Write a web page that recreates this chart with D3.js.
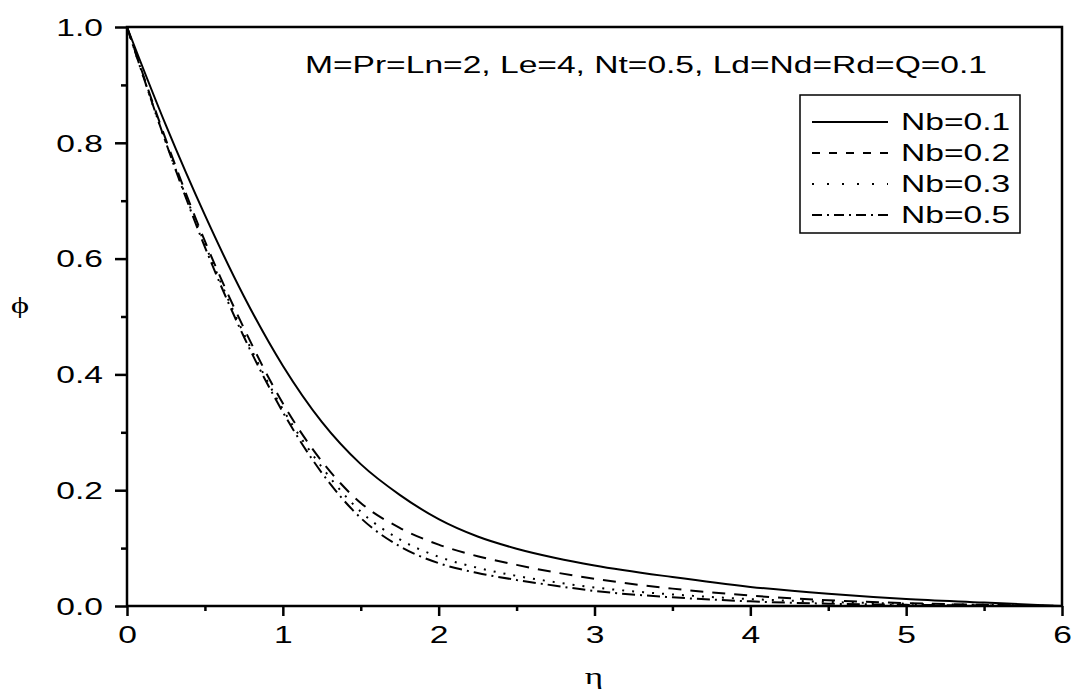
<!DOCTYPE html>
<html>
<head>
<meta charset="utf-8">
<script src="https://cdn.jsdelivr.net/npm/d3@7"></script>
<style>
  html, body { margin: 0; padding: 0; background: #fff; }
  svg { display: block; }
  text { font-family: "Liberation Sans", Arial, sans-serif; fill: #000; }
</style>
</head>
<body>
<svg id="chart" width="1073" height="692"></svg>
<script>
// data
const eta = [0, 0.25, 0.5, 0.75, 1, 1.25, 1.5, 1.75, 2, 2.25, 2.5, 2.75, 3, 3.5, 4, 4.5, 5, 5.5, 6];
const phiNb01 = [1, 0.83, 0.675, 0.535, 0.415, 0.318, 0.245, 0.192, 0.150, 0.120, 0.099, 0.083, 0.07, 0.05, 0.033, 0.021, 0.012, 0.006, 0];
const phiNb02 = [1, 0.805, 0.63, 0.48, 0.35, 0.25, 0.178, 0.135, 0.106, 0.086, 0.071, 0.058, 0.047, 0.03, 0.018, 0.01, 0.005, 0.002, 0];
const phiNb03 = [1, 0.80, 0.625, 0.47, 0.34, 0.24, 0.163, 0.115, 0.085, 0.066, 0.052, 0.041, 0.032, 0.02, 0.012, 0.007, 0.004, 0.002, 0];
const phiNb05 = [1, 0.80, 0.62, 0.465, 0.335, 0.23, 0.152, 0.103, 0.074, 0.057, 0.045, 0.035, 0.026, 0.015, 0.008, 0.004, 0.002, 0.001, 0];

const seriesNames = ["Nb=0.1", "Nb=0.2", "Nb=0.3", "Nb=0.5"];
const seriesValues = [phiNb01, phiNb02, phiNb03, phiNb05];
const dashes = ["none", "13,9", "2,8", "13,5,2,5"];
const legendDashes = ["none", "8,9", "2,13", "10,5,2,5"];

const xTicks = [0, 1, 2, 3, 4, 5, 6];
const yTicks = [0, 0.2, 0.4, 0.6, 0.8, 1.0];
const note = "M=Pr=Ln=2, Le=4, Nt=0.5, Ld=Nd=Rd=Q=0.1";

// the original picture is stretched sideways, so text is too
const SX = 1.46;

const svg = d3.select("#chart");
const plotL = 127, plotR = 1062, plotT = 27, plotB = 606;

const x = d3.scaleLinear().domain([0, 6]).range([plotL, plotR]);
const y = d3.scaleLinear().domain([0, 1]).range([plotB, plotT]);

// curves
const line = d3.line()
  .x((d, i) => x(eta[i]))
  .y(d => y(d))
  .curve(d3.curveMonotoneX);

seriesValues.forEach((vals, k) => {
  svg.append("path")
    .attr("d", line(vals))
    .attr("fill", "none")
    .attr("stroke", "#000")
    .attr("stroke-width", 2)
    .attr("stroke-dasharray", dashes[k]);
});

// frame
svg.append("rect")
  .attr("x", plotL).attr("y", plotT)
  .attr("width", plotR - plotL).attr("height", plotB - plotT)
  .attr("fill", "none").attr("stroke", "#000").attr("stroke-width", 2.5);

// x axis
const xAxis = svg.append("g")
  .attr("transform", `translate(0,${plotB})`)
  .call(d3.axisBottom(x).tickValues(xTicks).tickSize(10).tickFormat(d3.format("d")));
xAxis.select(".domain").remove();
xAxis.selectAll(".tick line").attr("stroke-width", 2.5);
xAxis.selectAll("text")
  .attr("y", 37).attr("dy", 0)
  .attr("transform", `scale(${SX},1)`)
  .style("font-size", "23px")
  .style("font-family", "Liberation Sans, Arial, sans-serif");

svg.append("g")
  .attr("transform", `translate(0,${plotB})`)
  .call(d3.axisBottom(x).tickValues(d3.range(0.5, 6, 1)).tickSize(5).tickFormat(""))
  .call(g => g.select(".domain").remove())
  .selectAll("line").attr("stroke-width", 2.5);

// y axis
const yAxis = svg.append("g")
  .attr("transform", `translate(${plotL},0)`)
  .call(d3.axisLeft(y).tickValues(yTicks).tickSize(12).tickFormat(d3.format(".1f")));
yAxis.select(".domain").remove();
yAxis.selectAll(".tick line").attr("stroke-width", 2.5);
yAxis.selectAll("text")
  .attr("x", -24 / SX).attr("dy", "0.36em")
  .attr("transform", `scale(${SX},1)`)
  .style("font-size", "23px")
  .style("font-family", "Liberation Sans, Arial, sans-serif");

svg.append("g")
  .attr("transform", `translate(${plotL},0)`)
  .call(d3.axisLeft(y).tickValues(d3.range(0.1, 1, 0.2)).tickSize(6).tickFormat(""))
  .call(g => g.select(".domain").remove())
  .selectAll("line").attr("stroke-width", 2.5);

// axis titles
svg.append("text")
  .attr("transform", `translate(20,313) scale(${SX},1)`)
  .attr("text-anchor", "middle")
  .style("font-family", "Liberation Serif, Times New Roman, serif")
  .style("font-size", "24px")
  .text("\u03d5");

svg.append("text")
  .attr("transform", `translate(594,684) scale(${SX},1)`)
  .attr("text-anchor", "middle")
  .style("font-family", "Liberation Serif, Times New Roman, serif")
  .style("font-size", "24px")
  .text("\u03b7");

// parameter note
svg.append("text")
  .attr("transform", `translate(305,73) scale(${SX},1)`)
  .style("font-size", "23px")
  .text(note);

// legend
const legX = 800, legY = 95, legW = 220, legH = 138, rowH = 31;
svg.append("rect")
  .attr("x", legX).attr("y", legY)
  .attr("width", legW).attr("height", legH)
  .attr("fill", "#fff").attr("stroke", "#000").attr("stroke-width", 1.5);

seriesNames.forEach((name, k) => {
  const cy = 122 + k * rowH;
  svg.append("line")
    .attr("x1", 812).attr("x2", 888)
    .attr("y1", cy).attr("y2", cy)
    .attr("stroke", "#000").attr("stroke-width", 2)
    .attr("stroke-dasharray", legendDashes[k]);
  svg.append("text")
    .attr("transform", `translate(901,${cy + 8}) scale(${SX},1)`)
    .style("font-size", "23px")
    .text(name);
});
</script>
</body>
</html>
